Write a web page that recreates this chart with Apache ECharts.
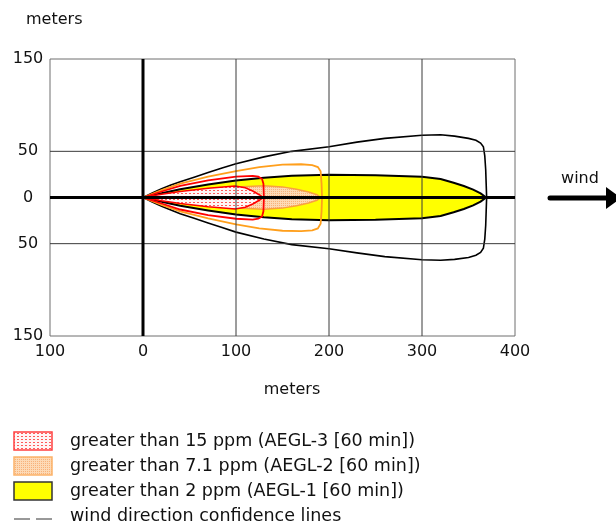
<!DOCTYPE html>
<html><head><meta charset="utf-8">
<script src="https://cdn.jsdelivr.net/npm/echarts@6/dist/echarts.min.js"></script>
<style>html,body{margin:0;padding:0;background:#fff}#c{width:616px;height:523px}</style>
</head><body><div id="c"></div>
<script>
// ---- axis data ----
const xTickValues = [-100, 0, 100, 200, 300, 400];
const xTickLabels = ['100', '0', '100', '200', '300', '400'];
const yTickValues = [-150, -50, 0, 50, 150];
const yTickLabels = ['150', '50', '0', '50', '150'];
const xGridLines = [100, 200, 300];
const yGridLines = [-50, 50];

// ---- threat zone data (meters downwind x, crosswind y) ----
const confAEGL1 = [[0,0],[10,5],[20,9.5],[30,13.5],[40,17],[55,22],[70,27],[85,32],[100,36.5],[130,44],[160,50],[200,55],[230,60],[260,64],[300,67.5],[320,68],[335,66.5],[350,64],[358,62],[363,59],[366,55],[367.5,45],[368.5,30],[369,15],[369.5,0],[369,-15],[368.5,-30],[367.5,-45],[366,-55],[363,-59.5],[358,-62.5],[350,-65],[335,-67],[320,-68],[300,-67.5],[260,-64],[230,-60],[200,-55.5],[160,-51],[130,-45],[100,-37.5],[85,-32.5],[70,-27.5],[55,-22.5],[40,-17.5],[30,-13.5],[20,-9.5],[10,-5],[0,0]];
const footAEGL1 = [[0,0],[20,4.5],[40,9],[70,14],[100,18.5],[130,21.5],[160,23.5],[200,24.7],[250,24.2],[300,22.5],[320,20],[334,16],[345,12.5],[355,8.5],[363,4.5],[369,0],[363,-4.5],[355,-8.5],[345,-12.5],[334,-16],[320,-20],[300,-22.5],[250,-24.2],[200,-24.7],[160,-23.5],[130,-21.5],[100,-18.5],[70,-14],[40,-9],[20,-4.5],[0,0]];
const confAEGL2 = [[0,0],[20,8],[40,15],[70,22.5],[100,28.5],[125,33],[150,35.5],[170,36],[182,35],[188,33],[191,28.5],[192,15],[192.5,0],[192,-15],[191,-28.5],[188,-33.5],[182,-35.5],[170,-36.5],[150,-36],[125,-33.5],[100,-29],[70,-22.5],[40,-15],[20,-8],[0,0]];
const footAEGL2 = [[0,0],[30,3],[60,7],[100,11.5],[130,12.7],[150,11.5],[165,9],[178,6],[187,3],[191,0],[187,-3],[178,-6],[165,-9],[150,-11.5],[130,-12.7],[100,-11.5],[60,-7],[30,-3],[0,0]];
const confAEGL3 = [[0,0],[20,6.5],[40,12.5],[70,18.5],[100,22.5],[118,23.5],[124,22.5],[128,20],[129.5,15],[130,0],[129.5,-15],[128,-20.5],[124,-23],[118,-24],[100,-23],[70,-19],[40,-13],[20,-6.5],[0,0]];
const footAEGL3 = [[0,0],[20,3.5],[40,6.5],[70,10],[99,12.5],[110,10.5],[118,7],[125,3],[129,0],[125,-3],[118,-7],[110,-10.5],[99,-12.5],[70,-10],[40,-6.5],[20,-3.5],[0,0]];

const legendLabels = [
  'greater than 15 ppm (AEGL-3 [60 min])',
  'greater than 7.1 ppm (AEGL-2 [60 min])',
  'greater than 2 ppm (AEGL-1 [60 min])',
  'wind direction confidence lines'
];

const FONT = '"DejaVu Sans", Verdana, sans-serif';
const TXT = '#111111';

function dotPattern(bg, dot, w, h, dw) {
  const c = document.createElement('canvas');
  c.width = w; c.height = h;
  const g = c.getContext('2d');
  g.fillStyle = bg; g.fillRect(0, 0, w, h);
  g.fillStyle = dot; g.fillRect(1, 1, dw, 1);
  return { image: c, repeat: 'repeat' };
}
const redFill = dotPattern('#fff6f6', '#ff5a5a', 4, 3, 2);
const orangeFill = dotPattern('#fddab6', '#f8b27a', 2, 2, 1);

function polySeries(name, pts, style, z) {
  return {
    type: 'custom', name: name, z: z, silent: true,
    coordinateSystem: 'cartesian2d',
    data: [pts[0]],
    renderItem: function (params, api) {
      return { type: 'polygon', shape: { points: pts.map(function (p) { return api.coord(p); }) }, style: style };
    }
  };
}

function lineSeries(name, vals, isX, style, z) {
  return {
    type: 'custom', name: name, z: z, silent: true,
    coordinateSystem: 'cartesian2d',
    data: vals.map(function (v) { return isX ? [v, 0] : [0, v]; }),
    renderItem: function (params, api) {
      const v = vals[params.dataIndex];
      const a = isX ? api.coord([v, -150]) : api.coord([-100, v]);
      const b = isX ? api.coord([v, 150]) : api.coord([400, v]);
      return { type: 'line', shape: { x1: a[0], y1: a[1], x2: b[0], y2: b[1] }, style: style };
    }
  };
}

const chart = echarts.init(document.getElementById('c'), null, { renderer: 'canvas' });

const lx = 14, lw = 38, lh = 18;
const legendY = [441, 466, 491, 516];
const LFONT = '17.5px ' + FONT;

chart.setOption({
  animation: false,
  backgroundColor: '#ffffff',
  grid: { left: 50, top: 59, width: 465, height: 277, show: true, borderColor: '#6e6e6e', borderWidth: 1, backgroundColor: 'transparent' },
  xAxis: {
    type: 'value', min: -100, max: 400, interval: 100,
    axisLine: { show: false }, axisTick: { show: false }, splitLine: { show: false },
    axisLabel: {
      margin: 8, fontFamily: FONT, fontSize: 16, color: TXT,
      formatter: function (v) { const i = xTickValues.indexOf(v); return i >= 0 ? xTickLabels[i] : ''; }
    }
  },
  yAxis: {
    type: 'value', min: -150, max: 150, interval: 50,
    axisLine: { show: false }, axisTick: { show: false }, splitLine: { show: false },
    axisLabel: {
      margin: 22, align: 'center', fontFamily: FONT, fontSize: 16, color: TXT,
      formatter: function (v) { const i = yTickValues.indexOf(v); return i >= 0 ? yTickLabels[i] : ''; }
    }
  },
  series: [
    polySeries('AEGL-1 confidence', confAEGL1, { fill: 'none', stroke: '#000', lineWidth: 1.6 }, 1),
    polySeries('AEGL-1', footAEGL1, { fill: '#ffff00', stroke: '#000', lineWidth: 2 }, 2),
    polySeries('AEGL-2', footAEGL2, { fill: orangeFill, stroke: '#f9a040', lineWidth: 1.5 }, 3),
    polySeries('AEGL-3', footAEGL3, { fill: redFill, stroke: '#ff0000', lineWidth: 1.6 }, 4),
    polySeries('AEGL-2 confidence', confAEGL2, { fill: 'none', stroke: '#ff9f1c', lineWidth: 1.8 }, 5),
    polySeries('AEGL-3 confidence', confAEGL3, { fill: 'none', stroke: '#ff0000', lineWidth: 1.8 }, 6),
    lineSeries('xgrid', xGridLines, true, { stroke: '#3a3a3a', lineWidth: 1 }, 7),
    lineSeries('ygrid', yGridLines, false, { stroke: '#3a3a3a', lineWidth: 1 }, 7),
    lineSeries('xzero', [0], true, { stroke: '#000', lineWidth: 3 }, 8),
    lineSeries('yzero', [0], false, { stroke: '#000', lineWidth: 3 }, 8)
  ],
  graphic: [
    { type: 'text', left: 26, top: 12, style: { text: 'meters', font: '16px ' + FONT, fill: TXT } },
    { type: 'text', x: 292, y: 390, style: { text: 'meters', font: '16px ' + FONT, fill: TXT, align: 'center', verticalAlign: 'middle' } },
    { type: 'text', x: 580, y: 179, style: { text: 'wind', font: '16px ' + FONT, fill: TXT, align: 'center', verticalAlign: 'middle' } },
    { type: 'line', shape: { x1: 550, y1: 198, x2: 608, y2: 198 }, style: { stroke: '#000', lineWidth: 5, lineCap: 'round' } },
    { type: 'polygon', shape: { points: [[606, 187], [621, 198], [606, 209]] }, style: { fill: '#000' } },
    // legend swatches
    { type: 'rect', shape: { x: lx, y: legendY[0] - 9, width: lw, height: lh }, style: { fill: redFill, stroke: '#ff4040', lineWidth: 1.5 } },
    { type: 'rect', shape: { x: lx, y: legendY[1] - 9, width: lw, height: lh }, style: { fill: orangeFill, stroke: '#fbb36a', lineWidth: 1.5 } },
    { type: 'rect', shape: { x: lx, y: legendY[2] - 9, width: lw, height: lh }, style: { fill: '#ffff00', stroke: '#333', lineWidth: 1.5 } },
    { type: 'line', shape: { x1: 14, y1: 519, x2: 30, y2: 519 }, style: { stroke: '#333', lineWidth: 1 } },
    { type: 'line', shape: { x1: 36, y1: 519, x2: 52, y2: 519 }, style: { stroke: '#333', lineWidth: 1 } },
    { type: 'text', x: 70, y: legendY[0], style: { text: legendLabels[0], font: LFONT, fill: TXT, verticalAlign: 'middle' } },
    { type: 'text', x: 70, y: legendY[1], style: { text: legendLabels[1], font: LFONT, fill: TXT, verticalAlign: 'middle' } },
    { type: 'text', x: 70, y: legendY[2], style: { text: legendLabels[2], font: LFONT, fill: TXT, verticalAlign: 'middle' } },
    { type: 'text', x: 70, y: legendY[3], style: { text: legendLabels[3], font: LFONT, fill: TXT, verticalAlign: 'middle' } }
  ]
});
</script>
</body></html>
